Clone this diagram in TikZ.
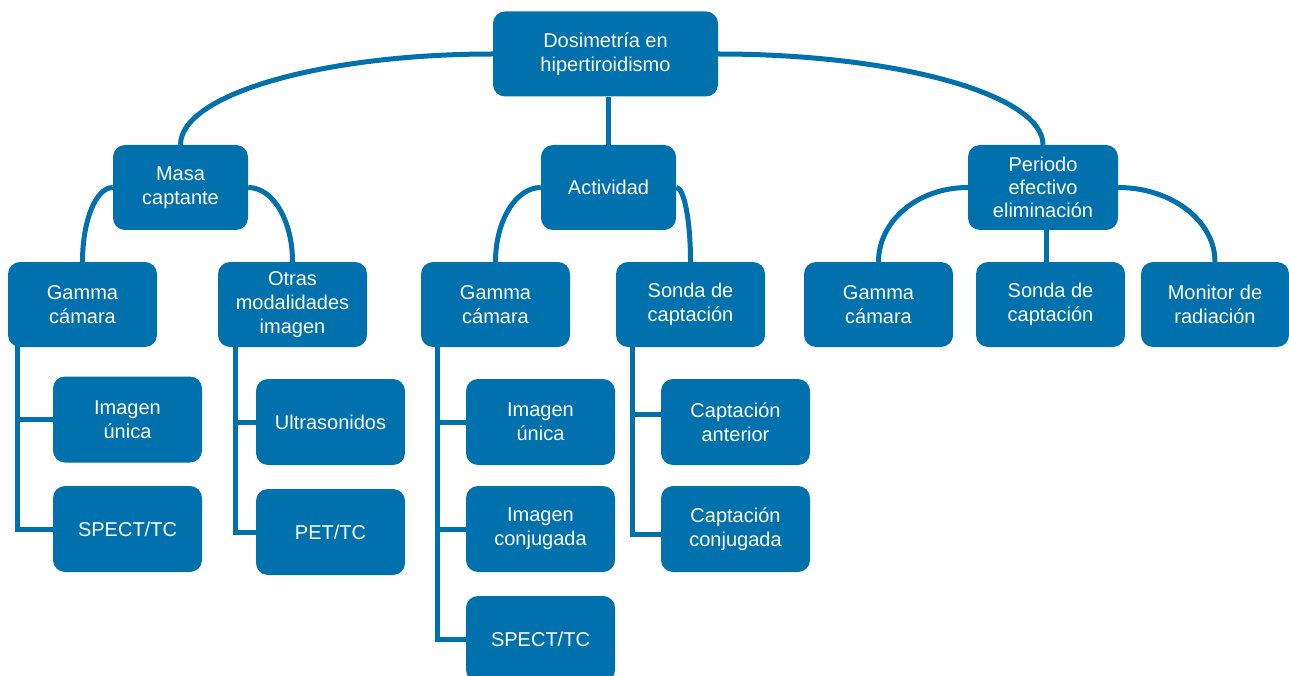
\documentclass[tikz,border=0pt]{standalone}
\usepackage{fontspec}
\setmainfont{Liberation Sans}
\usetikzlibrary{calc,positioning}
\definecolor{cBlue}{HTML}{0071AD}
\tikzset{
  box/.style={rectangle,rounded corners=12pt,fill=cBlue,text=white,align=center,inner sep=0pt,
    minimum width=149pt,minimum height=86pt,font=\fontsize{20}{24}\selectfont},
  conn/.style={draw=cBlue,line width=5pt},
}

\begin{document}
\begin{tikzpicture}[x=1pt,y=1pt]
  \useasboundingbox (0,0) rectangle (1289,-676);
  % ---------------- top
  \node[box,minimum width=225pt,minimum height=85pt] (root) at (605.5,-54) {Dosimetría en\\hipertiroidismo};
  % ---------------- level 1
  \node[box,minimum width=135pt,minimum height=85pt] (masa) at (180.5,-187.5) {Masa\\captante};
  \node[box,minimum width=135pt,minimum height=85pt] (act) at (608.5,-187.5) {Actividad};
  \node[box,minimum width=150pt,minimum height=85pt,font=\fontsize{20}{23}\selectfont] (periodo) at (1043,-187.5) {Periodo\\efectivo\\eliminación};
  % ---------------- level 2
  \node[box,minimum height=85pt] (gammaL) at (82.5,-304.5) {Gamma\\cámara};
  \node[box,minimum height=85pt] (otras) at (292.5,-304.5) {Otras\\modalidades\\imagen};
  \node[box,minimum height=85pt] (gammaM) at (495.5,-304.5) {Gamma\\cámara};
  \node[box,minimum height=85pt] (sondaM) at (690.5,-304.5) {Sonda de\\captación};
  \node[box,minimum height=85pt] (gammaR) at (878.5,-304.5) {Gamma\\cámara};
  \node[box,minimum height=85pt] (sondaR) at (1050.5,-304.5) {Sonda de\\captación};
  \node[box,minimum height=85pt,minimum width=148pt] (monitor) at (1215,-304.5) {Monitor de\\radiación};
  % ---------------- level 3
  \node[box] (img1) at (127.5,-419.5) {Imagen\\única};
  \node[box] (spect1) at (127.5,-529) {SPECT/TC};
  \node[box] (ultra) at (330.5,-422) {Ultrasonidos};
  \node[box] (pet) at (330.5,-532) {PET/TC};
  \node[box] (img3) at (540.5,-422) {Imagen\\única};
  \node[box] (imgConj) at (540.5,-529) {Imagen\\conjugada};
  \node[box] (spect3) at (540.5,-639) {SPECT/TC};
  \node[box] (captAnt) at (735.5,-422) {Captación\\anterior};
  \node[box] (captConj) at (735.5,-529) {Captación\\conjugada};
  % ---------------- curved links
  \draw[conn] (root.west) to[out=180,in=90,out distance=172pt,in distance=50pt] (masa.north);
  \draw[conn] (root.east) to[out=0,in=90,out distance=179pt,in distance=50pt] (periodo.north);
  \draw[conn] (root.south -| act.north) -- (act.north);
  \draw[conn] (masa.west) to[out=180,in=90,out distance=17pt,in distance=41pt] (gammaL.north);
  \draw[conn] (masa.east) to[out=0,in=90,out distance=25pt,in distance=41pt] (otras.north);
  \draw[conn] (act.west) to[out=180,in=90,out distance=25pt,in distance=41pt] (gammaM.north);
  \draw[conn] (act.east) to[out=0,in=90,out distance=8pt,in distance=41pt] (sondaM.north);
  \draw[conn] (periodo.west) to[out=180,in=90,out distance=50pt,in distance=41pt] (gammaR.north);
  \draw[conn] (periodo.east) to[out=0,in=90,out distance=53pt,in distance=41pt] (monitor.north);
  \draw[conn] ([xshift=3pt]periodo.south) -- ([xshift=3pt]periodo.south |- sondaR.north);
  % ---------------- tree links
  \foreach \c in {img1,spect1}{\draw[conn] ([xshift=10pt,yshift=2pt]gammaL.south west) |- (\c.west);}
  \foreach \c in {ultra,pet}{\draw[conn] ([xshift=18pt,yshift=2pt]otras.south west) |- (\c.west);}
  \foreach \c in {img3,imgConj,spect3}{\draw[conn] ([xshift=17pt,yshift=2pt]gammaM.south west) |- (\c.west);}
  \draw[conn] ([xshift=17pt,yshift=2pt]sondaM.south west) |- ([yshift=8pt]captAnt.west);
  \draw[conn] ([xshift=17pt,yshift=2pt]sondaM.south west) |- ([yshift=-5pt]captConj.west);
\end{tikzpicture}
\end{document}
